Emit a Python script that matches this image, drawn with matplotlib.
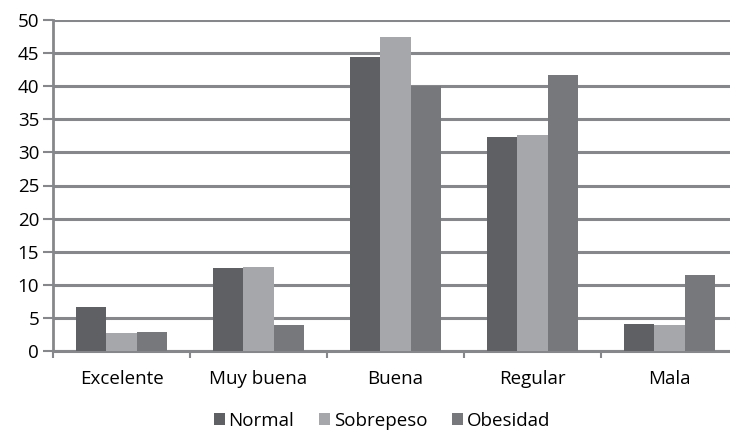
import matplotlib.pyplot as plt
import numpy as np

plt.rcParams['font.family'] = ['Open Sans', 'DejaVu Sans']

# Percepción de salud por grupo de peso
categorias = ['Excelente', 'Muy buena', 'Buena', 'Regular', 'Mala']
normal = [6.7, 12.5, 44.4, 32.3, 4.1]
sobrepeso = [2.7, 12.7, 47.5, 32.7, 3.9]
obesidad = [2.9, 3.9, 40.0, 41.7, 11.5]

series = [('Normal', normal, '#5f6064'),
          ('Sobrepeso', sobrepeso, '#a6a7ab'),
          ('Obesidad', obesidad, '#77787c')]

fig = plt.figure(figsize=(7.3, 4.33), dpi=100)
ax = fig.add_axes([53 / 730, 82 / 433, 685 / 730, 331 / 433])

x = np.arange(len(categorias))
w = 0.219
for i, (nombre, vals, color) in enumerate(series):
    ax.bar(x + (i - 1) * w, vals, w, color=color, label=nombre, zorder=3)

ax.set_xlim(-0.5, len(categorias) - 0.5)
ax.set_ylim(0, 50)
ax.set_yticks(range(0, 51, 5))
ax.yaxis.grid(True, color='#86878a', linewidth=2.2, zorder=0)

# ticks del eje x en los límites de cada categoría
ax.set_xticks(np.arange(-0.5, len(categorias) - 0.4, 1))
ax.set_xticklabels([])
ax.set_xticks(x, minor=True)
ax.set_xticklabels(categorias, minor=True)
ax.tick_params(axis='x', which='minor', length=0, pad=14, labelsize=13.5)
ax.tick_params(axis='x', which='major', length=5, width=1.5, color='#86878a')
ax.tick_params(axis='y', length=7, width=1.5, color='#86878a', labelsize=13.5, pad=3)

for s in ['top', 'right']:
    ax.spines[s].set_visible(False)
ax.spines['left'].set_color('#86878a')
ax.spines['left'].set_linewidth(2)
ax.spines['bottom'].set_color('#86878a')
ax.spines['bottom'].set_linewidth(2.2)

fig.legend(loc='lower center', bbox_to_anchor=(0.523, -0.032), ncol=3, frameon=False,
           fontsize=13.5, handlelength=0.6, handleheight=0.6, handletextpad=0.2,
           columnspacing=1.3)

fig.savefig('out.png', dpi=100)
